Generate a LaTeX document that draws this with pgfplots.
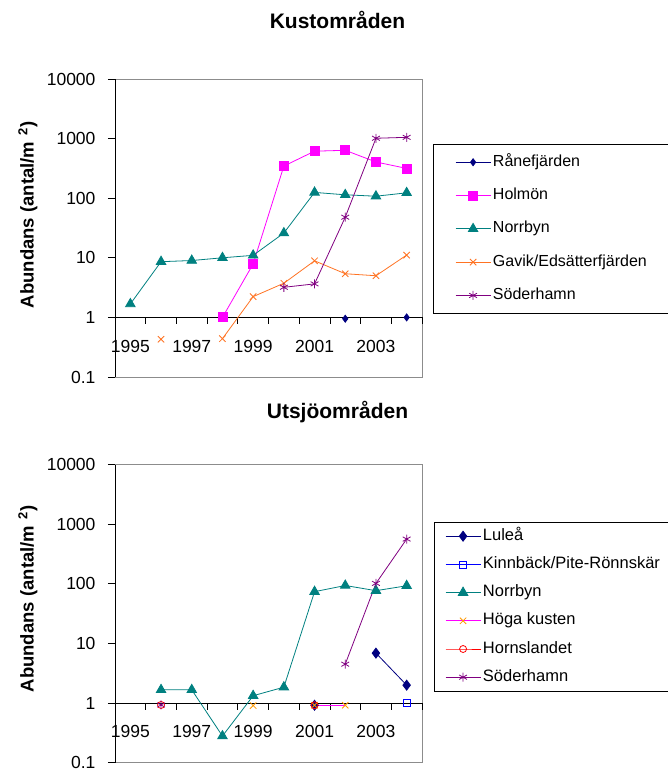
\documentclass[border=0pt]{standalone}
\usepackage{pgfplots}
\pgfplotsset{compat=1.18}
\usepackage{fontspec}
\setmainfont{Liberation Sans}
\definecolor{navy}{RGB}{0,0,128}
\definecolor{tealc}{RGB}{0,128,128}
\definecolor{orng}{RGB}{255,115,35}
\definecolor{purp}{RGB}{128,0,128}
\definecolor{mag}{RGB}{255,0,255}
\definecolor{hoga}{RGB}{255,153,0}
\definecolor{framegray}{RGB}{140,140,140}

\pgfplotsset{
  legend image code/.code={\draw[mark repeat=2,mark phase=2,#1] plot coordinates {(0pt,0pt) (17.5pt,0pt) (35pt,0pt)};},
}
% x positions: 1 = 1995, 2 = 1996, ..., 10 = 2004
\begin{document}
\begin{tikzpicture}
\path[use as bounding box] (0pt,0pt) rectangle (667pt,771pt);

% Titles and y labels
\node[anchor=base, font=\bfseries\fontsize{21}{21}\selectfont] at (337.5pt,742pt) {Kustområden};
\node[anchor=base, font=\bfseries\fontsize{21}{21}\selectfont] at (337.5pt,352pt) {Utsjöområden};
\node[rotate=90, font=\bfseries\fontsize{18.5}{18.5}\selectfont] at (28pt,556pt) {Abundans (antal/m\,\,\textsuperscript{2})};
\node[rotate=90, font=\bfseries\fontsize{18.5}{18.5}\selectfont] at (28pt,172pt) {Abundans (antal/m\,\,\textsuperscript{2})};

% ---------- Top panel ----------
\begin{axis}[
  at={(115pt,394pt)}, anchor=south west,
  scale only axis, width=307pt, height=298pt,
  ymode=log, ymin=0.1, ymax=10000, xmin=0.5, xmax=10.5,
  xtick=\empty,
  ytick={0.1,1,10,100,1000,10000},
  yticklabels={0.1,1,10,100,1000,10000},
  yminorticks=false,
  ytick pos=left, tick align=outside, major tick length=7pt,
  axis line style={draw=framegray, line width=0.8pt},
  every tick/.style={black, line width=0.8pt},
  yticklabel style={font=\fontsize{17.5}{17.5}\selectfont, text=black, xshift=-9pt},
  unbounded coords=jump,
  clip=false,
  legend cell align=left,
  legend style={at={(1.0358,0.7817)}, anchor=north west, draw=black, thin,
    font=\fontsize{16}{16}\selectfont, inner xsep=22pt, inner ysep=8pt,
    row sep=13.3pt, nodes={inner sep=2pt, text height=12pt, text depth=4pt}}]
\draw[black, line width=0.8pt] (rel axis cs:0,0) -- (rel axis cs:0,1);
\draw[black, line width=0.8pt] (axis cs:0.5,1) -- (axis cs:10.5,1);
\pgfplotsinvokeforeach{1.5,2.5,3.5,4.5,5.5,6.5,7.5,8.5,9.5,10.5}{%
  \draw[black, line width=0.8pt] (axis cs:#1,1) -- ([yshift=-7pt]axis cs:#1,1);}
\node[anchor=base, font=\fontsize{17.5}{17.5}\selectfont, inner sep=0pt] at ([yshift=-35pt]axis cs:1,1) {1995};
\node[anchor=base, font=\fontsize{17.5}{17.5}\selectfont, inner sep=0pt] at ([yshift=-35pt]axis cs:3,1) {1997};
\node[anchor=base, font=\fontsize{17.5}{17.5}\selectfont, inner sep=0pt] at ([yshift=-35pt]axis cs:5,1) {1999};
\node[anchor=base, font=\fontsize{17.5}{17.5}\selectfont, inner sep=0pt] at ([yshift=-35pt]axis cs:7,1) {2001};
\node[anchor=base, font=\fontsize{17.5}{17.5}\selectfont, inner sep=0pt] at ([yshift=-35pt]axis cs:9,1) {2003};
\addplot[color=navy, line width=0.8pt, mark=diamond*, mark size=3.5pt, mark options={solid, fill=navy}]
  coordinates {(8,0.95) (9,nan) (10,1.0)};
\addlegendentry{Rånefjärden}
\addplot[color=mag, line width=0.8pt, mark=square*, mark size=4.5pt, mark options={solid, fill=mag}]
  coordinates {(4,1) (5,7.9) (6,346) (7,615) (8,636) (9,405) (10,316)};
\addlegendentry{Holmön}
\addplot[color=tealc, line width=0.8pt, mark=triangle*, mark size=5.5pt, mark options={solid, fill=tealc}]
  coordinates {(1,1.68) (2,8.6) (3,9.0) (4,10) (5,11) (6,26) (7,125) (8,114) (9,108) (10,123)};
\addlegendentry{Norrbyn}
\addplot[color=orng, line width=0.8pt, mark=x, mark size=4.5pt, mark options={solid}]
  coordinates {(2,0.43) (3,nan) (4,0.44) (5,2.23) (6,3.74) (7,8.9) (8,5.4) (9,5.0) (10,11.1)};
\addlegendentry{Gavik/Edsätterfjärden}
\addplot[color=purp, line width=0.8pt, mark=asterisk, mark size=4.5pt, mark options={solid}]
  coordinates {(6,3.2) (7,3.65) (8,48) (9,1013) (10,1050)};
\addlegendentry{Söderhamn}
\end{axis}

% ---------- Bottom panel ----------
\begin{axis}[
  at={(115pt,8.3pt)}, anchor=south west,
  scale only axis, width=307pt, height=298pt,
  ymode=log, ymin=0.1, ymax=10000, xmin=0.5, xmax=10.5,
  xtick=\empty,
  ytick={0.1,1,10,100,1000,10000},
  yticklabels={0.1,1,10,100,1000,10000},
  yminorticks=false,
  ytick pos=left, tick align=outside, major tick length=7pt,
  axis line style={draw=framegray, line width=0.8pt},
  every tick/.style={black, line width=0.8pt},
  yticklabel style={font=\fontsize{17.5}{17.5}\selectfont, text=black, xshift=-9pt},
  unbounded coords=jump,
  clip=false,
  legend cell align=left,
  legend style={at={(1.039,0.8077)}, anchor=north west, draw=black, thin,
    font=\fontsize{16.5}{16.5}\selectfont, inner xsep=11pt, inner ysep=4pt,
    row sep=8.2pt, nodes={inner sep=2pt, text height=12pt, text depth=4pt}}]
\draw[black, line width=0.8pt] (rel axis cs:0,0) -- (rel axis cs:0,1);
\draw[black, line width=0.8pt] (axis cs:0.5,1) -- (axis cs:10.5,1);
\pgfplotsinvokeforeach{1.5,2.5,3.5,4.5,5.5,6.5,7.5,8.5,9.5,10.5}{%
  \draw[black, line width=0.8pt] (axis cs:#1,1) -- ([yshift=-7pt]axis cs:#1,1);}
\node[anchor=base, font=\fontsize{17.5}{17.5}\selectfont, inner sep=0pt] at ([yshift=-34pt]axis cs:1,1) {1995};
\node[anchor=base, font=\fontsize{17.5}{17.5}\selectfont, inner sep=0pt] at ([yshift=-34pt]axis cs:3,1) {1997};
\node[anchor=base, font=\fontsize{17.5}{17.5}\selectfont, inner sep=0pt] at ([yshift=-34pt]axis cs:5,1) {1999};
\node[anchor=base, font=\fontsize{17.5}{17.5}\selectfont, inner sep=0pt] at ([yshift=-34pt]axis cs:7,1) {2001};
\node[anchor=base, font=\fontsize{17.5}{17.5}\selectfont, inner sep=0pt] at ([yshift=-34pt]axis cs:9,1) {2003};
\addplot[color=navy, line width=0.8pt, mark=diamond*, mark size=5pt, mark options={solid, fill=navy}]
  coordinates {(7,0.92) (8,nan) (9,6.9) (10,2.0)};
\addlegendentry{Luleå}
\addplot[color=blue, line width=0.8pt, mark=square, mark size=3.5pt, mark options={solid}]
  coordinates {(10,1.0)};
\addlegendentry{Kinnbäck/Pite-Rönnskär}
\addplot[color=tealc, line width=0.8pt, mark=triangle*, mark size=5.5pt, mark options={solid, fill=tealc}]
  coordinates {(2,1.67) (3,1.67) (4,0.28) (5,1.33) (6,1.85) (7,74) (8,94) (9,77) (10,93)};
\addlegendentry{Norrbyn}
\addplot[color=mag, line width=0.8pt, mark=x, mark size=4.5pt, mark options={solid, draw=hoga}]
  coordinates {(5,0.91) (6,nan) (7,0.92) (8,0.92)};
\addlegendentry{Höga kusten}
\addplot[color=red, line width=0.8pt, mark=o, mark size=3.5pt, mark options={solid}]
  coordinates {(2,0.93) (3,nan) (7,0.92)};
\addlegendentry{Hornslandet}
\addplot[color=purp, line width=0.8pt, mark=asterisk, mark size=4.5pt, mark options={solid}]
  coordinates {(2,0.93) (3,nan) (8,4.5) (9,102) (10,565)};
\addlegendentry{Söderhamn}
\end{axis}
\end{tikzpicture}
\end{document}
